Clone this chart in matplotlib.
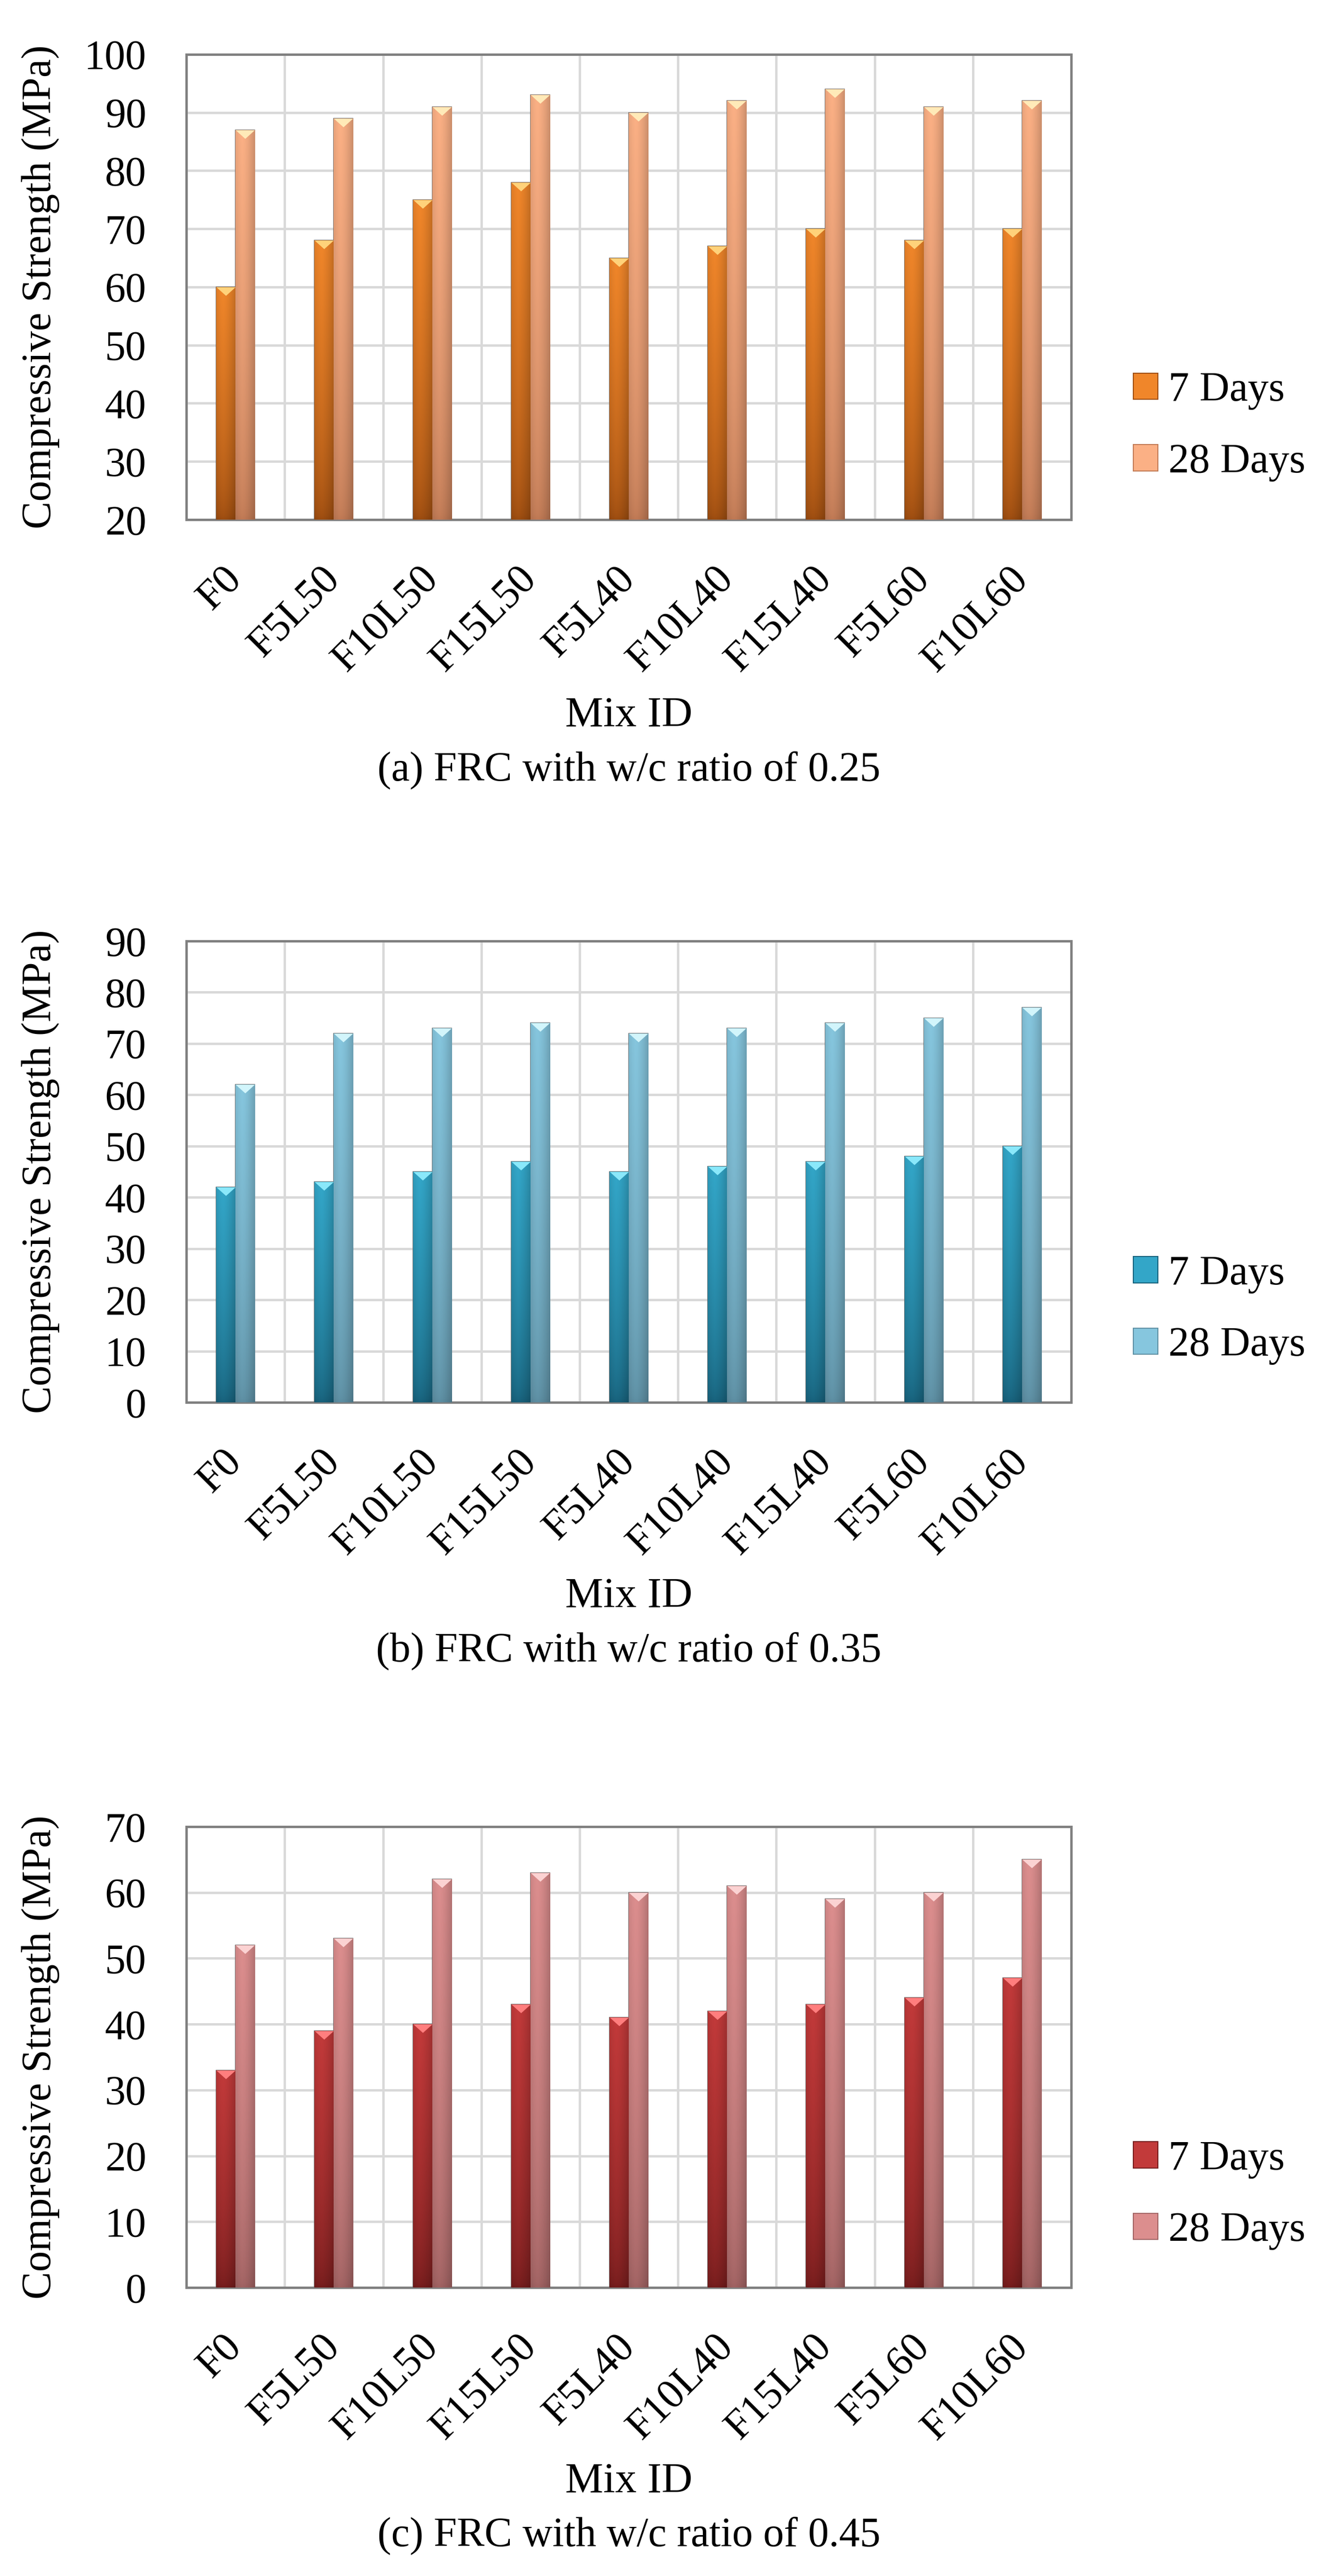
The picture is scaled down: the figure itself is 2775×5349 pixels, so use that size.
import numpy as np
import matplotlib
matplotlib.use('Agg')
import matplotlib.pyplot as plt
from matplotlib.path import Path
from matplotlib.patches import Rectangle
from matplotlib.colors import to_rgb

plt.rcParams['font.family'] = ['Liberation Serif', 'DejaVu Serif']

mixes = ['F0', 'F5L50', 'F10L50', 'F15L50', 'F5L40', 'F10L40', 'F15L40', 'F5L60', 'F10L60']
series_names = ['7 Days', '28 Days']

# (a) w/c 0.25
a_7d = [60, 68, 75, 78, 65, 67, 70, 68, 70]
a_28d = [87, 89, 91, 93, 90, 92, 94, 91, 92]
# (b) w/c 0.35
b_7d = [42, 43, 45, 47, 45, 46, 47, 48, 50]
b_28d = [62, 72, 73, 74, 72, 73, 74, 75, 77]
# (c) w/c 0.45
c_7d = [33, 39, 40, 43, 41, 42, 43, 44, 47]
c_28d = [52, 53, 62, 63, 60, 61, 59, 60, 65]

captions = ['(a) FRC with w/c ratio of 0.25',
            '(b) FRC with w/c ratio of 0.35',
            '(c) FRC with w/c ratio of 0.45']
ylims = [(20, 100), (0, 90), (0, 70)]

# (dark bottom, light top, cap) per series
palettes = [
    [('#9c4c10', '#f0862a', '#ffd27a'), ('#c07a55', '#fbb085', '#ffeab8')],
    [('#17607a', '#33a6c8', '#8ae8fa'), ('#5d8ea2', '#86c6de', '#d2f5fb')],
    [('#741c1c', '#c23a3a', '#ff7e7e'), ('#a06262', '#dc8e8e', '#fbd2d2')],
]

FS = 62
cap_marker = Path([(-1, 0), (1, 0), (0, -0.9), (-1, 0)],
                  [Path.MOVETO, Path.LINETO, Path.LINETO, Path.CLOSEPOLY])


def gradient(dark, light):
    d = np.array(to_rgb(dark))
    l = np.array(to_rgb(light))
    t = np.linspace(0, 1, 120)[:, None, None] ** 0.6
    u = np.linspace(0, 1, 24)[None, :, None]
    img = d + (l - d) * t
    shade = 1 - 0.35 * np.abs(u - 0.35) ** 1.5
    return np.clip(img * shade, 0, 1)


fig = plt.figure(figsize=(27.75, 53.49), dpi=100)
rects = [(0.1395, 0.7983, 0.6623, 0.1806),
         (0.1395, 0.4556, 0.6623, 0.1791),
         (0.1395, 0.1120, 0.6623, 0.1789)]
data = [(a_7d, a_28d), (b_7d, b_28d), (c_7d, c_28d)]

x = np.arange(len(mixes))
w = 0.196

for k in range(3):
    ax = fig.add_axes(rects[k])
    ymin, ymax = ylims[k]
    handles = []
    for s, vals in enumerate(data[k]):
        dark, light, cap = palettes[k][s]
        pos = x + (s - 0.5) * w
        bars = ax.bar(pos, vals, width=w, color=light, edgecolor='#5a5a5a',
                      linewidth=1.2, zorder=3, label=series_names[s])
        img = gradient(dark, light)
        for b in bars:
            x0 = b.get_x()
            im = ax.imshow(img, extent=(x0, x0 + b.get_width(), max(ymin, 0), b.get_height()),
                           origin='lower', aspect='auto', zorder=3.5, interpolation='bilinear')
            im.set_clip_path(b)
        ax.plot(pos, vals, ls='none', marker=cap_marker, markersize=28.5,
                color=cap, markeredgewidth=0, zorder=4)
        handles.append(Rectangle((0, 0), 1, 1, facecolor=light, edgecolor=dark, linewidth=1.5))

    ax.set_xlim(-0.5, len(mixes) - 0.5)
    ax.set_ylim(ymin, ymax)
    ax.set_yticks(np.arange(ymin, ymax + 1, 10))
    ax.set_xticks(x)
    ax.set_xticklabels(mixes, rotation=45, ha='right', va='center', rotation_mode='anchor')
    ax.set_xticks(np.arange(0.5, len(mixes) - 0.5, 1), minor=True)
    ax.tick_params(axis='both', which='both', length=0, labelsize=FS)
    ax.tick_params(axis='y', pad=60)
    ax.tick_params(axis='x', pad=80)
    ax.set_axisbelow(True)
    ax.grid(axis='y', which='major', color='#d9d9d9', lw=3.6)
    ax.grid(axis='x', which='minor', color='#d9d9d9', lw=3.6)
    ax.grid(axis='x', which='major', visible=False)
    for sp in ax.spines.values():
        sp.set_color('#808080')
        sp.set_linewidth(3.6)
    ax.set_ylabel('Compressive Strength (MPa)', fontsize=FS, va='center')
    ax.yaxis.set_label_coords(-0.165, 0.5)
    ax.text(0.5, -0.422, 'Mix ID', transform=ax.transAxes, ha='center', va='center', fontsize=FS + 2)
    ax.text(0.5, -0.539, captions[k], transform=ax.transAxes, ha='center', va='center', fontsize=FS)
    ax.legend(handles, series_names, loc='center left', bbox_to_anchor=(1.07, 0.20),
              frameon=False, fontsize=FS, handlelength=0.6, handleheight=0.6,
              handletextpad=0.25, labelspacing=0.8, borderpad=0, borderaxespad=0)

fig.savefig('out.png', dpi=100)
